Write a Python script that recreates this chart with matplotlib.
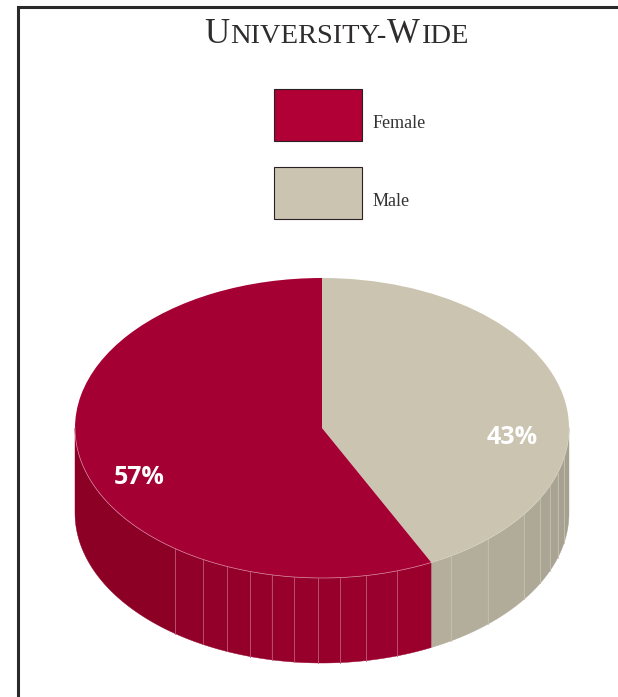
import numpy as np
import matplotlib
matplotlib.use("Agg")
import matplotlib.pyplot as plt
from matplotlib.patches import Polygon, Rectangle

# data
categories = ["Male", "Female"]   # clockwise from 12 o'clock
shares = [42.7, 57.3]             # as drawn in the picture
share_labels = ["43%", "57%"]
top_colors = ["#cbc4b1", "#a50034"]
legend_labels = ["Female", "Male"]
legend_colors = ["#b00035", "#cbc4b1"]

# facet edges of the rim, degrees clockwise from 12 o'clock
male_ribs = [90, 101.4, 107.3, 112.6, 118, 125.1, 137.8, 148.5, 153.8]
male_rib_colors = ["#a5a08f", "#a6a191", "#a8a392", "#aaa594", "#aea997", "#b1ab99", "#b3ad9b", "#b5ae9c"]
female_ribs = [153.8, 162.3, 169.7, 175.8, 180.9, 186.5, 191.7, 196.9, 202.6, 208.8, 216.5, 270]
female_rib_colors = ["#9b002d", "#9a002d", "#99002c", "#98002c", "#97002b", "#96002b", "#95002a", "#94002a", "#930029", "#900028", "#8c0026"]

W, H = 618, 697
cx, cy, rx, ry, depth = 322, 428, 247, 150, 85

fig = plt.figure(figsize=(W / 100, H / 100), dpi=100, facecolor="white")

# pie axes: one data unit is the radius of the ellipse
ax = fig.add_axes([0, 0, 1, 1])
ax.pie(shares, colors=top_colors, startangle=90, counterclock=False, radius=1,
       wedgeprops={"linewidth": 0}, normalize=True)
ax.set_aspect("auto")
ax.set_xlim(-cx / rx, (W - cx) / rx)
ax.set_ylim((cy - H) / ry, cy / ry)
d = depth / ry
split = male_ribs[-1]


def rim(a0, a1, color):
    t = np.radians(np.linspace(a0, a1, 40))
    x, y = np.sin(t), np.cos(t)
    pts = np.r_[np.c_[x, y], np.c_[x[::-1], y[::-1] - d]]
    ax.add_patch(Polygon(pts, closed=True, fc=color, ec=color, lw=0.3, zorder=0))


for ribs, cols, line in [(male_ribs, male_rib_colors, "#c6c0ae"),
                         (female_ribs, female_rib_colors, "#bd5a7a")]:
    for i, c in enumerate(cols):
        rim(ribs[i], ribs[i + 1], c)
    for a in ribs[1:-1]:
        s, co = np.sin(np.radians(a)), np.cos(np.radians(a))
        ax.plot([s, s], [co, co - d], color=line, lw=0.6, zorder=0.5)

# thin light line where the top meets the rim
t = np.radians(np.linspace(split, 270, 150))
ax.plot(np.sin(t), np.cos(t), color="#d9869f", lw=0.5, zorder=3)
t = np.radians(np.linspace(90, split, 100))
ax.plot(np.sin(t), np.cos(t), color="#d8d2c2", lw=0.5, zorder=3)

# overlay in pixels for frame, legend and text
px = fig.add_axes([0, 0, 1, 1], facecolor="none")
px.set_xlim(0, W)
px.set_ylim(H, 0)
px.axis("off")

px.plot([18, 18, W], [H, 6.5, 6.5], color="#2b2a2a", lw=2.2, solid_joinstyle="miter")

for y, lab, col in zip([89, 167], legend_labels, legend_colors):
    px.add_patch(Rectangle((274, y), 88, 52, fc=col, ec="#2a2024", lw=0.8))
    px.text(373, y + 35, lab, family="Liberation Serif", fontsize=13, color="#333333",
            va="center", ha="left")

px.text(139, 478, share_labels[1], family="Open Sans", weight="bold", fontsize=18,
        color="white", ha="center", va="center")
px.text(512, 437, share_labels[0], family="Open Sans", weight="bold", fontsize=18,
        color="white", ha="center", va="center")

# small caps title built from runs
runs = [("U", 25), ("NIVERSITY-", 20.5), ("W", 25), ("IDE", 20.5)]
fig.canvas.draw()
rend = fig.canvas.get_renderer()
x = 204
for s, size in runs:
    txt = px.text(x, 43, s, family="Liberation Serif", fontsize=size, color="#2e2c2c",
                  ha="left", va="baseline")
    x = px.transData.inverted().transform(txt.get_window_extent(rend).get_points())[1, 0] + 0.8

fig.savefig("out.png", dpi=100)
